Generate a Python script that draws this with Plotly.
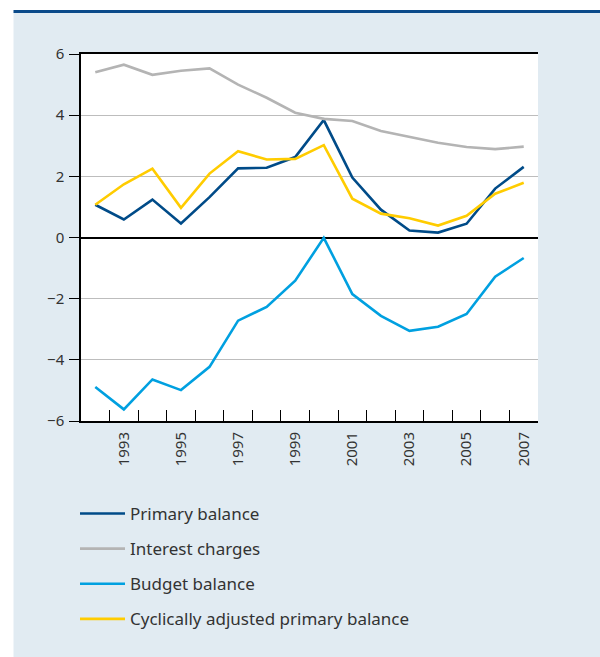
import plotly.graph_objects as go

years = list(range(1992, 2008))
primary_balance = [1.07, 0.59, 1.24, 0.46, 1.32, 2.26, 2.28, 2.63, 3.84, 1.96, 0.91, 0.23, 0.16, 0.45, 1.60, 2.31]
interest_charges = [5.40, 5.65, 5.32, 5.45, 5.53, 5.00, 4.57, 4.08, 3.88, 3.81, 3.48, 3.29, 3.10, 2.96, 2.89, 2.97]
budget_balance = [-4.89, -5.62, -4.64, -4.99, -4.23, -2.72, -2.27, -1.41, -0.01, -1.85, -2.56, -3.05, -2.92, -2.50, -1.28, -0.67]
cyclical_primary = [1.07, 1.74, 2.25, 0.97, 2.09, 2.82, 2.55, 2.57, 3.02, 1.27, 0.78, 0.63, 0.39, 0.71, 1.43, 1.79]

series_names = ["Primary balance", "Interest charges", "Budget balance", "Cyclically adjusted primary balance"]
series_values = [primary_balance, interest_charges, budget_balance, cyclical_primary]
series_colors = ["#004b88", "#b4b4b4", "#00a0e0", "#ffcc00"]

y_ticks = [-6, -4, -2, 0, 2, 4, 6]
x_label_years = [1993, 1995, 1997, 1999, 2001, 2003, 2005, 2007]
x_tick_bounds = [y + 0.5 for y in years[:-1]]

FONT = "Noto Sans"
TXT = "#333333"

fig = go.Figure()
for i, (name, vals, col) in enumerate(zip(series_names, series_values, series_colors)):
    fig.add_trace(go.Scatter(x=years, y=vals, mode="lines", name=name,
                             line=dict(color=col, width=2.6),
                             legendgroup=f"g{i}"))

# invisible helper trace so the label axis (x2) is drawn
fig.add_trace(go.Scatter(x=x_label_years, y=[None] * len(x_label_years), xaxis="x2", yaxis="y",
                         mode="lines", showlegend=False, hoverinfo="skip"))

W, H = 600, 657
ml, mr, mt, mb = 81, 62, 54, 236
pw, ph = W - ml - mr, H - mt - mb

def px2x(p):
    return (p - ml) / pw

def py2y(p):
    return (H - mb - p) / ph

shapes = [
    dict(type="rect", xref="paper", yref="paper", x0=px2x(-5), x1=px2x(W + 5),
         y0=py2y(11.5), y1=py2y(-5), fillcolor="white", line_width=0, layer="below"),
    dict(type="rect", xref="paper", yref="paper", x0=px2x(-5), x1=px2x(13.5),
         y0=py2y(H + 5), y1=py2y(-5), fillcolor="white", line_width=0, layer="below"),
    dict(type="line", xref="paper", yref="paper", x0=px2x(13.5), x1=px2x(W + 5),
         y0=py2y(11.5), y1=py2y(11.5), line=dict(color="#0a4a8a", width=3), layer="below"),
]

fig.update_layout(
    width=W, height=H,
    margin=dict(l=ml, r=mr, t=mt, b=mb, pad=0),
    paper_bgcolor="#e1ebf2",
    plot_bgcolor="white",
    font=dict(family=FONT, color=TXT, size=15),
    shapes=shapes,
    showlegend=True,
    legend=dict(x=px2x(75), xanchor="left", y=py2y(496), yanchor="top",
                bgcolor="rgba(0,0,0,0)", font=dict(size=17, color=TXT, family=FONT),
                traceorder="grouped", tracegroupgap=10, itemwidth=45),
    xaxis=dict(range=[1991.5, 2007.5], tickmode="array", tickvals=x_tick_bounds,
               showticklabels=False, ticks="inside", ticklen=11, tickcolor="black",
               showline=True, linecolor="black", linewidth=1.5, mirror=True,
               showgrid=False, zeroline=False, fixedrange=True),
    xaxis2=dict(range=[1991.5, 2007.5], overlaying="x", side="bottom", anchor="y",
                tickmode="array", tickvals=x_label_years, ticktext=[str(y) for y in x_label_years],
                tickangle=-90, ticks="", showline=False, showgrid=False, zeroline=False,
                tickfont=dict(size=15, color=TXT, family=FONT), ticklabelstandoff=7),
    yaxis=dict(range=[-6, 6], tickmode="array", tickvals=y_ticks,
               ticks="outside", ticklen=10, tickcolor="black",
               showline=True, linecolor="black", linewidth=1.5,
               showgrid=True, gridcolor="#bdbdbd", gridwidth=1.3,
               zeroline=True, zerolinecolor="black", zerolinewidth=1.5,
               tickfont=dict(size=15, color=TXT, family=FONT), ticklabelstandoff=2),
    yaxis2=dict(range=[-6, 6], overlaying="y", side="right", anchor="x",
                tickmode="array", tickvals=y_ticks,
                ticks="outside", ticklen=10, tickcolor="black",
                showline=True, linecolor="black", linewidth=1.5,
                showgrid=False, zeroline=False,
                tickfont=dict(size=15, color=TXT, family=FONT), ticklabelstandoff=2),
)

fig.write_html("out.html", config={"displayModeBar": False},
               post_script="document.body.style.margin='0';")
